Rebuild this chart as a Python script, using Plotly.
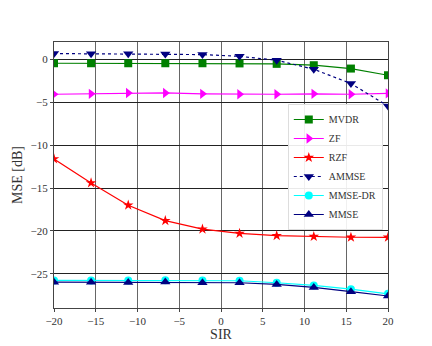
import plotly.graph_objects as go

sir = [-20, -15.56, -11.11, -6.67, -2.22, 2.22, 6.67, 11.11, 15.56, 20]

mvdr = [-0.43, -0.43, -0.43, -0.43, -0.43, -0.45, -0.5, -0.66, -1.05, -1.83]
zf = [-4.05, -4.0, -3.9, -3.9, -4.0, -4.05, -4.05, -4.0, -4.05, -3.95]
rzf = [-11.6, -14.4, -17.0, -18.8, -19.8, -20.3, -20.55, -20.66, -20.74, -20.75]
ammse = [0.7, 0.68, 0.68, 0.65, 0.58, 0.38, -0.08, -1.13, -2.8, -5.43]
mmse_dr = [-25.78, -25.78, -25.8, -25.75, -25.8, -25.82, -26.05, -26.37, -26.8, -27.34]
mmse = [-25.98, -26.0, -26.03, -25.97, -26.05, -26.05, -26.25, -26.6, -27.1, -27.6]

x_ticks = [-20, -15, -10, -5, 0, 5, 10, 15, 20]
y_ticks = [0, -5, -10, -15, -20, -25]

series = [
    ("MVDR", mvdr, "green", "square", "solid", 8),
    ("ZF", zf, "magenta", "triangle-right", "solid", 9),
    ("RZF", rzf, "red", "star", "solid", 8),
    ("AMMSE", ammse, "navy", "triangle-down", "dot", 9),
    ("MMSE-DR", mmse_dr, "cyan", "circle", "solid", 8),
    ("MMSE", mmse, "navy", "triangle-up", "solid", 9),
]

fig = go.Figure()
for name, vals, color, sym, dash, size in series:
    fig.add_trace(go.Scatter(
        x=sir, y=vals, name=name, mode="lines+markers",
        line=dict(color=color, width=1.2, dash=dash),
        marker=dict(symbol=sym, size=size, color=color),
    ))

def fmt(v):
    return str(v).replace("-", "\u2212")

serif = "Liberation Serif"

# the page body adds an 8px offset, so the figure is a bit smaller
fig.update_layout(
    width=424, height=338,
    margin=dict(l=46, r=44, t=34, b=38),
    paper_bgcolor="white", plot_bgcolor="white",
    font=dict(family=serif, size=11, color="#333"),
    showlegend=True,
    legend=dict(
        x=0.70, y=0.53, xanchor="left", yanchor="middle",
        bgcolor="rgba(255,255,255,0.9)", bordercolor="#ddd", borderwidth=1,
        font=dict(family=serif, size=10, color="#333"), tracegroupgap=0,
    ),
)
fig.update_xaxes(
    range=[-20, 20], tickvals=x_ticks, ticktext=[fmt(v) for v in x_ticks],
    showgrid=True, gridcolor="#666", gridwidth=1,
    showline=True, linecolor="#444", linewidth=1.2, mirror=True,
    ticks="outside", ticklen=3, tickcolor="#444", automargin=False,
    zeroline=False, title=dict(text="SIR", font=dict(size=14), standoff=0),
)
fig.update_yaxes(
    range=[-29, 2.05], tickvals=y_ticks, ticktext=[fmt(v) for v in y_ticks],
    showgrid=True, gridcolor="#222", gridwidth=1,
    showline=True, linecolor="#444", linewidth=1.2, mirror=True,
    ticks="outside", ticklen=3, tickcolor="#444", automargin=False,
    zeroline=False, title=dict(text="MSE [dB]", font=dict(size=14), standoff=4),
)

fig.write_html("out.html")
